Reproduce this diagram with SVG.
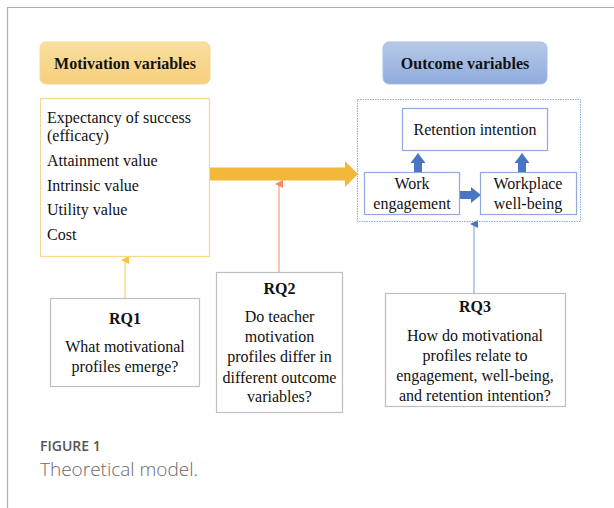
<svg xmlns="http://www.w3.org/2000/svg" width="614" height="508" viewBox="0 0 614 508">
<defs>
<linearGradient id="gGold" x1="0" y1="0" x2="0" y2="1">
<stop offset="0" stop-color="#fadf9f"/>
<stop offset="1" stop-color="#f6cf7c"/>
</linearGradient>
<linearGradient id="gBlue" x1="0" y1="0" x2="0" y2="1">
<stop offset="0" stop-color="#b6c9e8"/>
<stop offset="1" stop-color="#8fabdc"/>
</linearGradient>
<marker id="mY" markerWidth="8" markerHeight="8" refX="4" refY="4" orient="auto" markerUnits="userSpaceOnUse">
<path d="M0,8 L4,0 L8,8 Z" fill="#f6c44a"/>
</marker>
<marker id="mO" markerWidth="8" markerHeight="8" refX="4" refY="4" orient="auto" markerUnits="userSpaceOnUse">
<path d="M0,8 L4,0 L8,8 Z" fill="#ee8e5c"/>
</marker>
<marker id="mB" markerWidth="8" markerHeight="8" refX="4" refY="4" orient="auto" markerUnits="userSpaceOnUse">
<path d="M0,8 L4,0 L8,8 Z" fill="#4a74c4"/>
</marker>
</defs>
<style>
.t{font-family:"Liberation Serif","Times New Roman",serif;font-size:16px;fill:#111}
.b{font-weight:bold}
.c{text-anchor:middle}
.box{fill:#fff;stroke:#bfbfbf;stroke-width:1.2}
.bbox{fill:#fff;stroke:#8eaadb;stroke-width:1.2}
.cap{font-family:"Open Sans","Lato",sans-serif}
</style>
<rect width="614" height="508" fill="#fff"/>
<path d="M7.5,508 V7.5 H614" fill="none" stroke="#b0b0b0" stroke-width="1.2"/>

<g id="connectors">
<polygon points="210,167.5 345,167.5 345,161 358,174 345,187 345,180.5 210,180.5" fill="#f3b73c"/>
<line x1="125" y1="298" x2="125" y2="260" stroke="#f8d36a" stroke-width="1.2" marker-end="url(#mY)"/>
<line x1="279" y1="272" x2="279" y2="184" stroke="#f0a27a" stroke-width="1.2" marker-end="url(#mO)"/>
<line x1="474" y1="293" x2="474" y2="224" stroke="#8eaadb" stroke-width="1.2" marker-end="url(#mB)"/>
<polygon points="414,172 414,163 410.5,163 418,153 425.5,163 422,163 422,172" fill="#4a74c4"/>
<polygon points="518,172 518,163 514.5,163 522,153 529.5,163 526,163 526,172" fill="#4a74c4"/>
<polygon points="460,191 471,191 471,187 481,195 471,203 471,199 460,199" fill="#4a74c4"/>
</g>

<g id="motivation-header">
<rect x="40" y="42" width="170" height="42" rx="6" fill="url(#gGold)" stroke="#f7d78e" stroke-width="1"/>
<text class="t b c" x="125" y="68.5">Motivation variables</text>
</g>
<g id="outcome-header">
<rect x="383" y="42" width="164" height="42" rx="6" fill="url(#gBlue)" stroke="#a9bfe3" stroke-width="1"/>
<text class="t b c" x="465" y="68.5">Outcome variables</text>
</g>

<g id="motivation-list">
<rect x="40.5" y="98.5" width="169" height="158" fill="#fff" stroke="#f8d88a" stroke-width="1.2"/>
<text class="t" x="47" y="123">Expectancy of success</text>
<text class="t" x="47" y="141">(efficacy)</text>
<text class="t" x="47" y="166">Attainment value</text>
<text class="t" x="47" y="191">Intrinsic value</text>
<text class="t" x="47" y="215">Utility value</text>
<text class="t" x="47" y="240">Cost</text>
</g>

<g id="outcome-group">
<rect x="357.5" y="99.5" width="223" height="122" fill="none" stroke="#8eaadb" stroke-width="1" stroke-dasharray="1.5,1"/>
</g>
<g id="retention">
<rect class="bbox" x="402.5" y="108.5" width="145" height="42"/>
<text class="t c" x="475" y="135">Retention intention</text>
</g>
<g id="work-engagement">
<rect class="bbox" x="364.5" y="172.5" width="95" height="42"/>
<text class="t c" x="412" y="189">Work</text>
<text class="t c" x="412" y="209">engagement</text>
</g>
<g id="workplace-wellbeing">
<rect class="bbox" x="480.5" y="172.5" width="96" height="42"/>
<text class="t c" x="528" y="189">Workplace</text>
<text class="t c" x="528" y="209">well-being</text>
</g>

<g id="rq1">
<rect class="box" x="50.5" y="298.5" width="149" height="88"/>
<text class="t b c" x="125" y="324">RQ1</text>
<text class="t c" x="125" y="352">What motivational</text>
<text class="t c" x="125" y="372">profiles emerge?</text>
</g>
<g id="rq2">
<rect class="box" x="216.5" y="272.5" width="126" height="140"/>
<text class="t b c" x="279.5" y="294">RQ2</text>
<text class="t c" x="279.5" y="322">Do teacher</text>
<text class="t c" x="279.5" y="342">motivation</text>
<text class="t c" x="279.5" y="362">profiles differ in</text>
<text class="t c" x="279.5" y="383">different outcome</text>
<text class="t c" x="279.5" y="402">variables?</text>
</g>
<g id="rq3">
<rect class="box" x="385.5" y="293.5" width="180" height="113"/>
<text class="t b c" x="475" y="312">RQ3</text>
<text class="t c" x="475" y="341">How do motivational</text>
<text class="t c" x="475" y="361">profiles relate to</text>
<text class="t c" x="475" y="381">engagement, well-being,</text>
<text class="t c" x="475" y="401">and retention intention?</text>
</g>

<g id="caption">
<text class="cap" x="40" y="451" font-size="14" font-weight="600" fill="#555">FIGURE 1</text>
<text class="cap" x="40" y="476" font-size="19" font-weight="300" fill="#6a6a6a">Theoretical model.</text>
</g>
</svg>
